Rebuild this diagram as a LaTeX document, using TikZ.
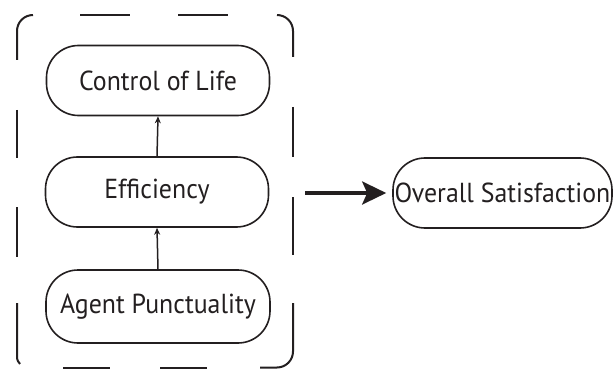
\documentclass[tikz,border=0pt]{standalone}
\usepackage{fontspec}
\setmainfont{PT Sans}[FakeStretch=0.94]
\usetikzlibrary{arrows.meta}
\definecolor{ink}{HTML}{231F20}
\begin{document}
\begin{tikzpicture}[x=1pt,y=-1pt,
  box/.style={draw=ink, line width=1.6pt, rounded corners=32pt, minimum height=70pt, inner sep=0pt, text=ink, font=\fontsize{27.5}{32}\selectfont},
  frame/.style={draw=ink, line width=2pt},
  thinarrow/.style={draw=ink, line width=1.5pt, -{Stealth[length=7pt,width=6pt]}},
  thickarrow/.style={draw=ink, line width=3.5pt, -{Stealth[length=24pt,width=23pt,inset=5pt]}}]
\useasboundingbox (0,0) rectangle (614,369);
% nodes
\node[box, minimum width=223pt] (col) at (158,80.5) {Control of Life};
\node[box, minimum width=223pt] (eff) at (157,192) {Efficiency};
\node[box, minimum width=224pt, minimum height=73pt] (ap) at (158,306.5) {Agent Punctuality};
\node[box, minimum width=219pt] (os) at (502.5,193) {Overall Satisfaction};
% connectors
\draw[thinarrow] (eff.north) -- (col.south);
\draw[thinarrow] (ap.north) -- (eff.south);
\coordinate (tail) at (305,193);
\draw[thickarrow, shorten >=6pt] (tail) -- (os.west);
% dashed frame
\draw[frame, rounded corners=16pt] (17,60) -- (17,15) -- (33,15);
\draw[frame] (80,15) -- (130,15);
\draw[frame] (178,15) -- (228,15);
\draw[frame, rounded corners=16pt] (277,15) -- (293,15) -- (293,57);
\draw[frame] (293,107) -- (293,157);
\draw[frame] (293,197) -- (293,255);
\draw[frame, rounded corners=16pt] (293,303) -- (293,367.5) -- (260,367.5);
\draw[frame] (17,110) -- (17,158);
\draw[frame] (17,207) -- (17,257);
\draw[frame] (17,303) -- (17,356) .. controls (17,360) and (18,362) .. (20,364);
\draw[frame] (63,367.5) -- (110,367.5);
\draw[frame] (160,367.5) -- (207,367.5);
\end{tikzpicture}
\end{document}
